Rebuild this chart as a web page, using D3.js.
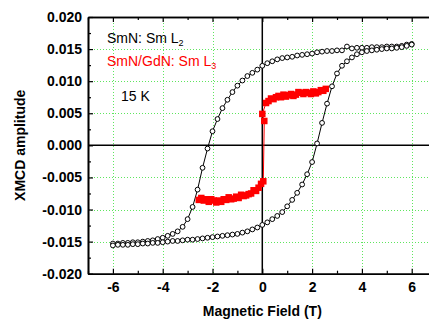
<!DOCTYPE html>
<html>
<head>
<meta charset="utf-8">
<script src="https://cdn.jsdelivr.net/npm/d3@7"></script>
<style>
  body { margin: 0; background: #fff; }
  text { font-family: "Liberation Sans", Arial, sans-serif; }
</style>
</head>
<body>
<div id="chart"></div>
<script>
// SmN: Sm L2 loop, both sweeps share the same field grid (T)
var field = [-6.0, -5.8, -5.6, -5.4, -5.2, -5.0, -4.8, -4.6, -4.4, -4.2,
  -4.0, -3.8, -3.6, -3.4, -3.2, -3.0, -2.8, -2.6, -2.4, -2.2,
  -2.0, -1.8, -1.6, -1.4, -1.2, -1.0, -0.8, -0.6, -0.4, -0.2,
  0.0, 0.2, 0.4, 0.6, 0.8, 1.0, 1.2, 1.4, 1.6, 1.8,
  2.0, 2.2, 2.4, 2.6, 2.8, 3.0, 3.2, 3.4, 3.6, 3.8,
  4.0, 4.2, 4.4, 4.6, 4.8, 5.0, 5.2, 5.4, 5.6, 5.8, 6.0];

// field sweeping down (+6 -> -6)
var ampDown = [-0.0153, -0.0153, -0.0152, -0.0152, -0.0151, -0.0151, -0.0150, -0.0149, -0.0148, -0.0146,
  -0.0144, -0.0141, -0.0138, -0.0134, -0.0127, -0.0115, -0.0096, -0.0069, -0.0035, -0.0005,
  0.0022, 0.0041, 0.0058, 0.0071, 0.0083, 0.0093, 0.0101, 0.0108, 0.0113, 0.0118,
  0.0124, 0.0128, 0.0131, 0.0134, 0.0136, 0.0137, 0.0138, 0.0140, 0.0141, 0.0142,
  0.0143, 0.0145, 0.0146, 0.0147, 0.0147, 0.0148, 0.0148, 0.0154, 0.0151, 0.0152,
  0.0152, 0.0152, 0.0153, 0.0153, 0.0153, 0.0154, 0.0154, 0.0154, 0.0155, 0.0157, 0.0158];

// field sweeping up (-6 -> +6)
var ampUp = [-0.0156, -0.0155, -0.0155, -0.0155, -0.0154, -0.0154, -0.0153, -0.0153, -0.0152, -0.0152,
  -0.0151, -0.0150, -0.0149, -0.0149, -0.0148, -0.0147, -0.0147, -0.0146, -0.0145, -0.0144,
  -0.0143, -0.0142, -0.0141, -0.0140, -0.0139, -0.0138, -0.0136, -0.0134, -0.0131, -0.0128,
  -0.0124, -0.0120, -0.0115, -0.0110, -0.0104, -0.0095, -0.0085, -0.0074, -0.0061, -0.0045,
  -0.0026, 0.0003, 0.0035, 0.0065, 0.0092, 0.0112, 0.0124, 0.0131, 0.0137, 0.0142,
  0.0145, 0.0147, 0.0148, 0.0149, 0.0150, 0.0151, 0.0151, 0.0152, 0.0153, 0.0155, 0.0157];

// SmN/GdN: Sm L3, in sweep order
var redField = [2.55, 2.45, 2.35, 2.25, 2.15, 2.05, 1.95, 1.85, 1.75, 1.65,
  1.55, 1.45, 1.35, 1.25, 1.15, 1.05, 0.95, 0.85, 0.75, 0.65,
  0.55, 0.45, 0.35, 0.25, 0.15, 0.0, 0.08, 0.04,
  -0.05, -0.15, -0.25, -0.35, -0.45, -0.55, -0.65, -0.75, -0.85, -0.95,
  -1.05, -1.15, -1.25, -1.35, -1.45, -1.55, -1.65, -1.75, -1.85, -1.95,
  -2.05, -2.15, -2.25, -2.35, -2.45, -2.55];
var redAmp = [0.0088, 0.0085, 0.0086, 0.0083, 0.0081, 0.0084, 0.0080, 0.0082, 0.0083, 0.0080,
  0.0082, 0.0083, 0.0079, 0.0077, 0.0080, 0.0078, 0.0076, 0.0079, 0.0075, 0.0077,
  0.0075, 0.0072, 0.0073, 0.0069, 0.0066, 0.0049, 0.0038, -0.0056,
  -0.0060, -0.0066, -0.0071, -0.0070, -0.0075, -0.0076, -0.0078, -0.0079, -0.0077, -0.0082,
  -0.0080, -0.0083, -0.0084, -0.0081, -0.0085, -0.0084, -0.0088, -0.0086, -0.0089, -0.0086,
  -0.0084, -0.0088, -0.0084, -0.0086, -0.0082, -0.0085];

var xTicks = [-6, -4, -2, 0, 2, 4, 6];
var xMinor = [-7, -5, -3, -1, 1, 3, 5, 7];
var yTicks = [-0.020, -0.015, -0.010, -0.005, 0.000, 0.005, 0.010, 0.015, 0.020];
var yMinor = [-0.0175, -0.0125, -0.0075, -0.0025, 0.0025, 0.0075, 0.0125, 0.0175];

var width = 429, height = 321;
var plotLeft = 88, plotTop = 17, plotRight = 436.6, plotBottom = 273.7;

var svg = d3.select("#chart").append("svg")
  .attr("width", width)
  .attr("height", height);

var x = d3.scaleLinear().domain([-7, 7]).range([plotLeft, plotRight]);
var y = d3.scaleLinear().domain([-0.02, 0.02]).range([plotBottom, plotTop]);

//------- GRID -------
var grid = svg.append("g").attr("class", "grid")
  .attr("stroke", "#5ee65e")
  .attr("stroke-width", 1)
  .attr("stroke-dasharray", "1,2");

grid.selectAll("line.gx")
  .data(xTicks.filter(function (d) { return d !== 0; }))
  .enter().append("line")
  .attr("class", "gx")
  .attr("x1", function (d) { return Math.round(x(d)) + 0.5; })
  .attr("x2", function (d) { return Math.round(x(d)) + 0.5; })
  .attr("y1", plotTop)
  .attr("y2", plotBottom);

grid.selectAll("line.gy")
  .data(yTicks.filter(function (d) { return d !== 0 && Math.abs(d) < 0.02; }))
  .enter().append("line")
  .attr("class", "gy")
  .attr("y1", function (d) { return Math.round(y(d)) + 0.5; })
  .attr("y2", function (d) { return Math.round(y(d)) + 0.5; })
  .attr("x1", plotLeft)
  .attr("x2", plotRight);

//------- ZERO LINES -------
svg.append("line")
  .attr("x1", plotLeft).attr("x2", plotRight)
  .attr("y1", y(0)).attr("y2", y(0))
  .attr("stroke", "#000").attr("stroke-width", 1.5);
svg.append("line")
  .attr("x1", x(0)).attr("x2", x(0))
  .attr("y1", plotTop).attr("y2", plotBottom)
  .attr("stroke", "#000").attr("stroke-width", 1.5);

//------- SmN LOOP -------
var downPts = field.map(function (f, i) { return [f, ampDown[i]]; }).reverse();
var upPts = field.map(function (f, i) { return [f, ampUp[i]]; });

var line = d3.line()
  .x(function (d) { return x(d[0]); })
  .y(function (d) { return y(d[1]); });

[downPts, upPts].forEach(function (pts) {
  svg.append("path")
    .datum(pts)
    .attr("d", line)
    .attr("fill", "none")
    .attr("stroke", "#000")
    .attr("stroke-width", 1);
});

[downPts, upPts].forEach(function (pts) {
  svg.append("g").selectAll("circle")
    .data(pts)
    .enter().append("circle")
    .attr("cx", function (d) { return x(d[0]); })
    .attr("cy", function (d) { return y(d[1]); })
    .attr("r", 2.4)
    .attr("fill", "#fff")
    .attr("stroke", "#000")
    .attr("stroke-width", 1);
});

//------- SmN/GdN -------
var redPts = redField.map(function (f, i) { return [f, redAmp[i]]; });

svg.append("path")
  .datum(redPts)
  .attr("d", line)
  .attr("fill", "none")
  .attr("stroke", "#ff0000")
  .attr("stroke-width", 1);

var sq = 6.5;
svg.append("g").selectAll("rect")
  .data(redPts)
  .enter().append("rect")
  .attr("x", function (d) { return x(d[0]) - sq / 2; })
  .attr("y", function (d) { return y(d[1]) - sq / 2; })
  .attr("width", sq)
  .attr("height", sq)
  .attr("fill", "#ff0000");

//------- AXES -------
var font = function (g) {
  g.selectAll("text")
    .attr("font-family", "Liberation Sans, Arial, sans-serif")
    .attr("font-size", 14)
    .attr("font-weight", "bold")
    .attr("fill", "#000");
  g.selectAll("line").attr("stroke", "#000").attr("stroke-width", 1.2);
  g.select(".domain").attr("stroke", "#000").attr("stroke-width", 1.6);
};

svg.append("g")
  .attr("transform", "translate(0," + plotBottom + ")")
  .call(d3.axisBottom(x).tickValues(xTicks).tickSizeInner(-5).tickSizeOuter(0).tickPadding(8)
    .tickFormat(function (d) { return String(d); }))
  .call(font);
svg.append("g")
  .attr("transform", "translate(0," + plotBottom + ")")
  .call(d3.axisBottom(x).tickValues(xMinor).tickSizeInner(-3).tickSizeOuter(0).tickFormat(""))
  .call(font);

svg.append("g")
  .attr("transform", "translate(0," + plotTop + ")")
  .call(d3.axisTop(x).tickValues(xTicks).tickSizeInner(-5).tickSizeOuter(0).tickFormat(""))
  .call(font);
svg.append("g")
  .attr("transform", "translate(0," + plotTop + ")")
  .call(d3.axisTop(x).tickValues(xMinor).tickSizeInner(-3).tickSizeOuter(0).tickFormat(""))
  .call(font);

svg.append("g")
  .attr("transform", "translate(" + plotLeft + ",0)")
  .call(d3.axisLeft(y).tickValues(yTicks).tickSizeInner(-5).tickSizeOuter(0).tickPadding(6)
    .tickFormat(function (d) { return d.toFixed(3); }))
  .call(font);
svg.append("g")
  .attr("transform", "translate(" + plotLeft + ",0)")
  .call(d3.axisLeft(y).tickValues(yMinor).tickSizeInner(-3).tickSizeOuter(0).tickFormat(""))
  .call(font);

//------- TITLES -------
svg.append("text")
  .attr("x", x(0))
  .attr("y", 316)
  .attr("text-anchor", "middle")
  .attr("font-size", 14)
  .attr("font-weight", "bold")
  .text("Magnetic Field (T)");

svg.append("text")
  .attr("transform", "translate(25," + ((plotTop + plotBottom) / 2) + ") rotate(-90)")
  .attr("text-anchor", "middle")
  .attr("font-size", 14)
  .attr("font-weight", "bold")
  .text("XMCD amplitude");

//------- LABELS -------
var l1 = svg.append("text")
  .attr("x", 107).attr("y", 43.3)
  .attr("font-size", 14)
  .attr("fill", "#000");
l1.append("tspan").text("SmN: Sm L");
l1.append("tspan").attr("font-size", 9).attr("dy", 3).text("2");

var l2 = svg.append("text")
  .attr("x", 107).attr("y", 66)
  .attr("font-size", 14)
  .attr("fill", "#ff0000");
l2.append("tspan").text("SmN/GdN: Sm L");
l2.append("tspan").attr("font-size", 9).attr("dy", 3).text("3");

svg.append("text")
  .attr("x", 121).attr("y", 101)
  .attr("font-size", 14)
  .attr("fill", "#000")
  .text("15 K");
</script>
</body>
</html>
